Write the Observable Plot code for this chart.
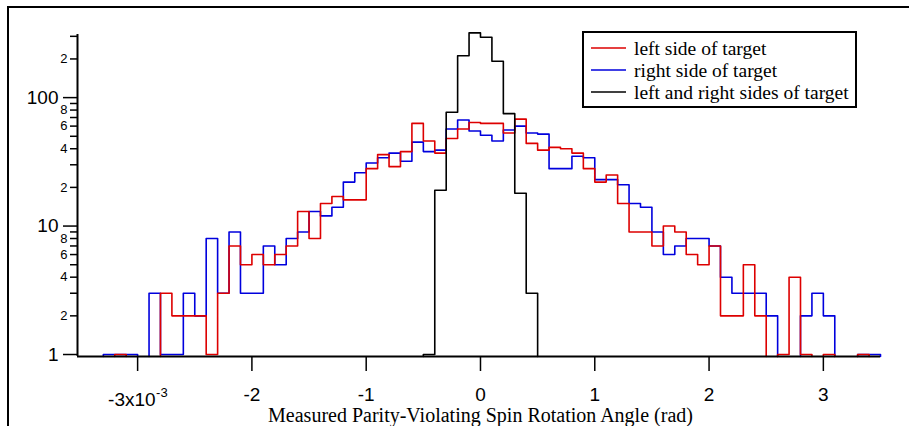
<!DOCTYPE html>
<html>
<head>
<meta charset="utf-8">
<script src="https://cdn.jsdelivr.net/npm/d3@7"></script>
<script src="https://cdn.jsdelivr.net/npm/@observablehq/plot@0.6"></script>
<style>
  html, body { margin: 0; padding: 0; background: #fff; }
  #wrap { position: relative; width: 909px; height: 426px; overflow: hidden; background: #fff; }
  #outer { position: absolute; left: 7px; top: 6px; width: 1000px; height: 1000px; border: 2px solid #000; box-sizing: border-box; pointer-events: none; }
  #legend { position: absolute; left: 582px; top: 31px; width: 275px; height: 77px; border: 2px solid #000; box-sizing: border-box; background: #fff; }
  #legend svg { position: absolute; left: 0; top: 0; }
  #legend text { font-family: "Liberation Serif", "Times New Roman", serif; font-size: 19.5px; fill: #000; }
</style>
</head>
<body>
<div id="wrap">
  <div id="chart"></div>
  <div id="outer"></div>
  <div id="legend"></div>
</div>
<script>
// Bin left edges (units of 1e-3 rad), bin width 0.1e-3
const binLeft = [-3.3,-3.2,-3.1,-3.0,-2.9,-2.8,-2.7,-2.6,-2.5,-2.4,-2.3,-2.2,-2.1,-2.0,-1.9,-1.8,-1.7,-1.6,-1.5,-1.4,-1.3,-1.2,-1.1,-1.0,-0.9,-0.8,-0.7,-0.6,-0.5,-0.4,-0.3,-0.2,-0.1,0.0,0.1,0.2,0.3,0.4,0.5,0.6,0.7,0.8,0.9,1.0,1.1,1.2,1.3,1.4,1.5,1.6,1.7,1.8,1.9,2.0,2.1,2.2,2.3,2.4,2.5,2.6,2.7,2.8,2.9,3.0,3.1,3.2,3.3,3.4];
const binWidth = 0.1;

// left side of target (red)
const leftCounts = [0,1,0,0, 0,3,2,2,2,1,3,7,5,6, 5,6,7,13,8,15,17,16,16,28, 36,29,38,63,46,37,48,57,64,63, 63,53,68,44,39,41,40,37,28,22, 25,15,9,9,7,10,9,6,5,7, 2,2,5,2,0,1,4,1,0,1, 0,0,1,0];
// right side of target (blue)
const rightCounts = [1,1,1,0, 3,1,1,3,2,8,3,9,3,3, 7,5,8,9,13,12,14,22,26,31, 34,37,32,45,38,39,57,67,55,51, 46,56,60,53,52,28,28,35,34,23, 23,21,15,14,9,6,7,8,8,7, 4,3,3,3,2,0,0,2,3,2, 0,0,1,1];
// left and right sides of target (black)
const bothLeft = [-0.5,-0.4,-0.3,-0.2,-0.1,0.0,0.1,0.2,0.3,0.4];
const bothCounts = [1,19,77,212,319,295,192,75,18,3];

const seriesNames = ["left side of target", "right side of target", "left and right sides of target"];
const seriesColors = ["#dd0000", "#0000dd", "#000000"];

const xTicks = [-3,-2,-1,0,1,2,3];
const yMajorTicks = [1,10,100];
const yMinorTicks = [2,3,4,5,6,7,8,9,20,30,40,50,60,70,80,90,200,300];
const yMinorLabels = [
  {v: 2, t: "2"}, {v: 4, t: "4"}, {v: 6, t: "6"}, {v: 8, t: "8"},
  {v: 20, t: "2"}, {v: 40, t: "4"}, {v: 60, t: "6"}, {v: 80, t: "8"},
  {v: 200, t: "2"}
];
const xLabel = "Measured Parity-Violating Spin Rotation Angle (rad)";
const expTick = {at: -3, base: "-3x10", exp: "-3"};

const X_MIN = -3.526, X_MAX = 3.5;
const Y_MIN = 0.965, Y_MAX = 310;

function steps(lefts, counts, name) {
  const rows = [];
  let run = 0, inRun = false;
  for (let i = 0; i < counts.length; i++) {
    const c = counts[i];
    if (c > 0) {
      if (!inRun) { run++; inRun = true; rows.push({x: lefts[i], y: Y_MIN, z: name + run}); }
      rows.push({x: lefts[i], y: c, z: name + run});
      const next = i + 1 < counts.length ? counts[i + 1] : 0;
      if (!(next > 0)) { rows.push({x: lefts[i] + binWidth, y: Y_MIN, z: name + run}); inRun = false; }
    }
  }
  return rows;
}

const redRows = steps(binLeft, leftCounts, "L");
const blueRows = steps(binLeft, rightCounts, "R");
const blackRows = steps(bothLeft, bothCounts, "B");

const sans = "Liberation Sans, Arial, Helvetica, sans-serif";
const serif = "Liberation Serif, Times New Roman, serif";

const chart = Plot.plot({
  width: 909,
  height: 426,
  marginLeft: 77,
  marginRight: 29,
  marginTop: 34,
  marginBottom: 70,
  style: {fontFamily: sans, background: "white", color: "black", overflow: "visible"},
  x: {domain: [X_MIN, X_MAX], label: null},
  y: {type: "log", domain: [Y_MIN, Y_MAX], label: null},
  marks: [
    Plot.line(blueRows, {x: "x", y: "y", z: "z", curve: "step-after", stroke: seriesColors[1], strokeWidth: 1.6}),
    Plot.line(redRows, {x: "x", y: "y", z: "z", curve: "step-after", stroke: seriesColors[0], strokeWidth: 1.6}),
    Plot.line(blackRows, {x: "x", y: "y", z: "z", curve: "step-after", stroke: seriesColors[2], strokeWidth: 1.6}),
    Plot.ruleY([Y_MIN], {stroke: "black", strokeWidth: 2}),
    Plot.ruleX([X_MIN], {stroke: "black", strokeWidth: 2}),
    Plot.axisY({ticks: yMajorTicks, tickSize: 14, tickPadding: 5, fontSize: 19, strokeWidth: 1.5, tickFormat: d => String(d)}),
    Plot.axisY({ticks: yMinorTicks, tickSize: 7, tickPadding: 3, strokeWidth: 1.5, tickFormat: () => ""}),
    Plot.text(yMinorLabels, {y: "v", text: "t", frameAnchor: "left", dx: -10, textAnchor: "end", fontSize: 13, fill: "black"}),
    Plot.axisX({ticks: xTicks, tickSize: 15, tickPadding: 15.5, fontSize: 19, strokeWidth: 1.5,
      tickFormat: d => d === expTick.at ? "" : String(d)}),
    Plot.text([expTick], {x: "at", text: "base", frameAnchor: "bottom", dx: 18, dy: 49.5, textAnchor: "end", fontSize: 19, fill: "black"}),
    Plot.text([expTick], {x: "at", text: "exp", frameAnchor: "bottom", dx: 18.5, dy: 40.5, textAnchor: "start", fontSize: 13, fill: "black"}),
    Plot.text([xLabel], {frameAnchor: "bottom", dx: 1.5, dy: 65, fontSize: 20, fontFamily: serif, fill: "black"})
  ]
});
document.getElementById("chart").appendChild(chart);

// Legend
const lg = d3.select("#legend").append("svg").attr("width", 275).attr("height", 77);
seriesNames.forEach((name, i) => {
  const y = 15 + i * 22;
  lg.append("line").attr("x1", 7).attr("x2", 42).attr("y1", y).attr("y2", y)
    .attr("stroke", seriesColors[i]).attr("stroke-width", 1.6);
  lg.append("text").attr("x", 50).attr("y", y + 6.5).text(name);
});
</script>
</body>
</html>
